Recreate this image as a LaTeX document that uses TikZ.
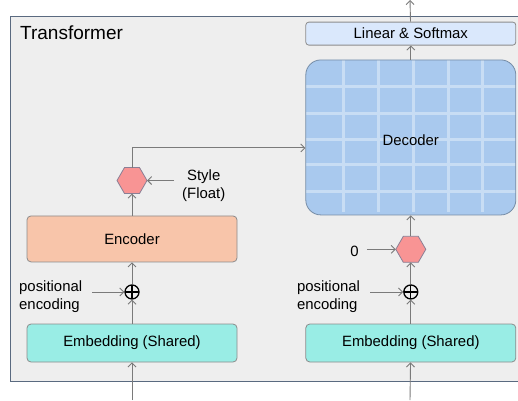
\documentclass[tikz,border=0pt]{standalone}
\usepackage{fontspec}
\setmainfont{Liberation Sans}
\usepackage{tikz}
\usetikzlibrary{positioning, arrows.meta, shapes.geometric}

\definecolor{framefill}{HTML}{EEEEEE}
\definecolor{frameline}{HTML}{5A6A80}
\definecolor{encfill}{HTML}{F8C5AA}
\definecolor{embfill}{HTML}{99EDE5}
\definecolor{decfill}{HTML}{A9C9EE}
\definecolor{gridfill}{HTML}{C8DDF4}
\definecolor{linfill}{HTML}{DAE8FC}
\definecolor{hexfill}{HTML}{F89494}
\definecolor{hexline}{HTML}{8A7F95}
\definecolor{boxline}{HTML}{8C8C8C}
\definecolor{arrowgray}{HTML}{7A7A7A}

\begin{document}
\begin{tikzpicture}[
    x=1pt, y=-1pt,
    font=\fontsize{14.9}{18}\selectfont,
    box/.style={draw=boxline, line width=0.8pt, rounded corners=4pt, minimum width=210pt, align=center, inner sep=0pt},
    embbox/.style={box, fill=embfill, minimum height=38pt},
    encbox/.style={box, fill=encfill, minimum height=46pt},
    linbox/.style={box, fill=linfill, minimum height=23pt, rounded corners=3pt},
    decbox/.style={box, fill=decfill, draw=decfill!70!black, minimum height=155pt, rounded corners=15pt,
        path picture={
            \foreach \gx in {38,73,108,143,177}
                \draw[gridline] ([xshift=\gx]path picture bounding box.north west) -- ([xshift=\gx, yshift=3]path picture bounding box.south west);
            \foreach \gy in {27,54,80,105,132}
                \draw[gridline] ([yshift=-\gy]path picture bounding box.north west) -- ([yshift=-\gy]path picture bounding box.north east);
        }},
    gridline/.style={draw=gridfill, line width=3pt},
    hexop/.style={regular polygon, regular polygon sides=6, draw=hexline, line width=0.8pt, fill=hexfill, minimum size=30pt, inner sep=0pt, outer sep=0pt},
    addop/.style={circle, draw=black, line width=1.3pt, minimum size=14pt, inner sep=0pt,
        path picture={\draw[line width=1.3pt] (path picture bounding box.north) -- (path picture bounding box.south)
            (path picture bounding box.west) -- (path picture bounding box.east);}},
    arrow/.style={-{Straight Barb[length=4pt, width=8pt]}, draw=arrowgray, line width=0.9pt},
    lbl/.style={align=left, inner sep=1pt}
]
\useasboundingbox (0,0) rectangle (518,400);
\draw[draw=frameline, fill=framefill, line width=0.9pt] (10,16) rectangle (540,381);
\node[anchor=base west, inner sep=0pt, font=\fontsize{19}{22}\selectfont] (title) at (20,39) {Transformer};

% encoder side
\node[embbox] (encemb) at (132,343) {Embedding (Shared)};
\node[addop, above=24pt of encemb] (encadd) {};
\node[encbox, above=22pt of encadd] (enc) {Encoder};
\node[hexop, above=22pt of enc] (enchex) {};
\node[lbl, align=center, right=34pt of enchex, yshift=-5pt] (stylelbl) {Style\\(Float)};
\node[lbl, left=41pt of encadd, yshift=-5pt] (encpos) {positional\\encoding};

% decoder side
\node[embbox, right=68pt of encemb] (decemb) {Embedding (Shared)};
\node[addop, above=24pt of decemb] (decadd) {};
\node[hexop, above=22pt of decadd] (dechex) {};
\node[decbox, above=21pt of dechex] (dec) {};
\node (declbl) at ([yshift=-3pt]dec.center) {Decoder};
\node[linbox, above=14pt of dec] (linsm) {Linear \& Softmax};
\node[lbl, left=36pt of dechex, yshift=-2pt] (zerolbl) {0};
\node[lbl, left=42pt of decadd, yshift=-5pt] (decpos) {positional\\encoding};

\coordinate (encin) at (132,400);
\coordinate (decin) at (410,400);
\coordinate (out) at (410,0);

\draw[arrow] (encin) -- (encemb);
\draw[arrow] (encemb) -- (encadd);
\draw[arrow] (encadd) -- (enc);
\draw[arrow] (enc) -- (enchex);
\draw[arrow] (enchex.north) |- ([yshift=-10.5pt]dec.west);
\draw[arrow, shorten <=7pt] (stylelbl.west |- enchex.east) -- (enchex.east);
\draw[arrow, shorten <=9pt] (encpos.east |- encadd.west) -- (encadd.west);

\draw[arrow] (decin) -- (decemb);
\draw[arrow] (decemb) -- (decadd);
\draw[arrow] (decadd) -- (dechex);
\draw[arrow] (dechex) -- (dec);
\draw[arrow] (dec) -- (linsm);
\draw[arrow] (linsm) -- (out);
\draw[arrow, shorten <=7pt] (zerolbl.east |- dechex.west) -- (dechex.west);
\draw[arrow, shorten <=9pt] (decpos.east |- decadd.west) -- (decadd.west);
\end{tikzpicture}
\end{document}
